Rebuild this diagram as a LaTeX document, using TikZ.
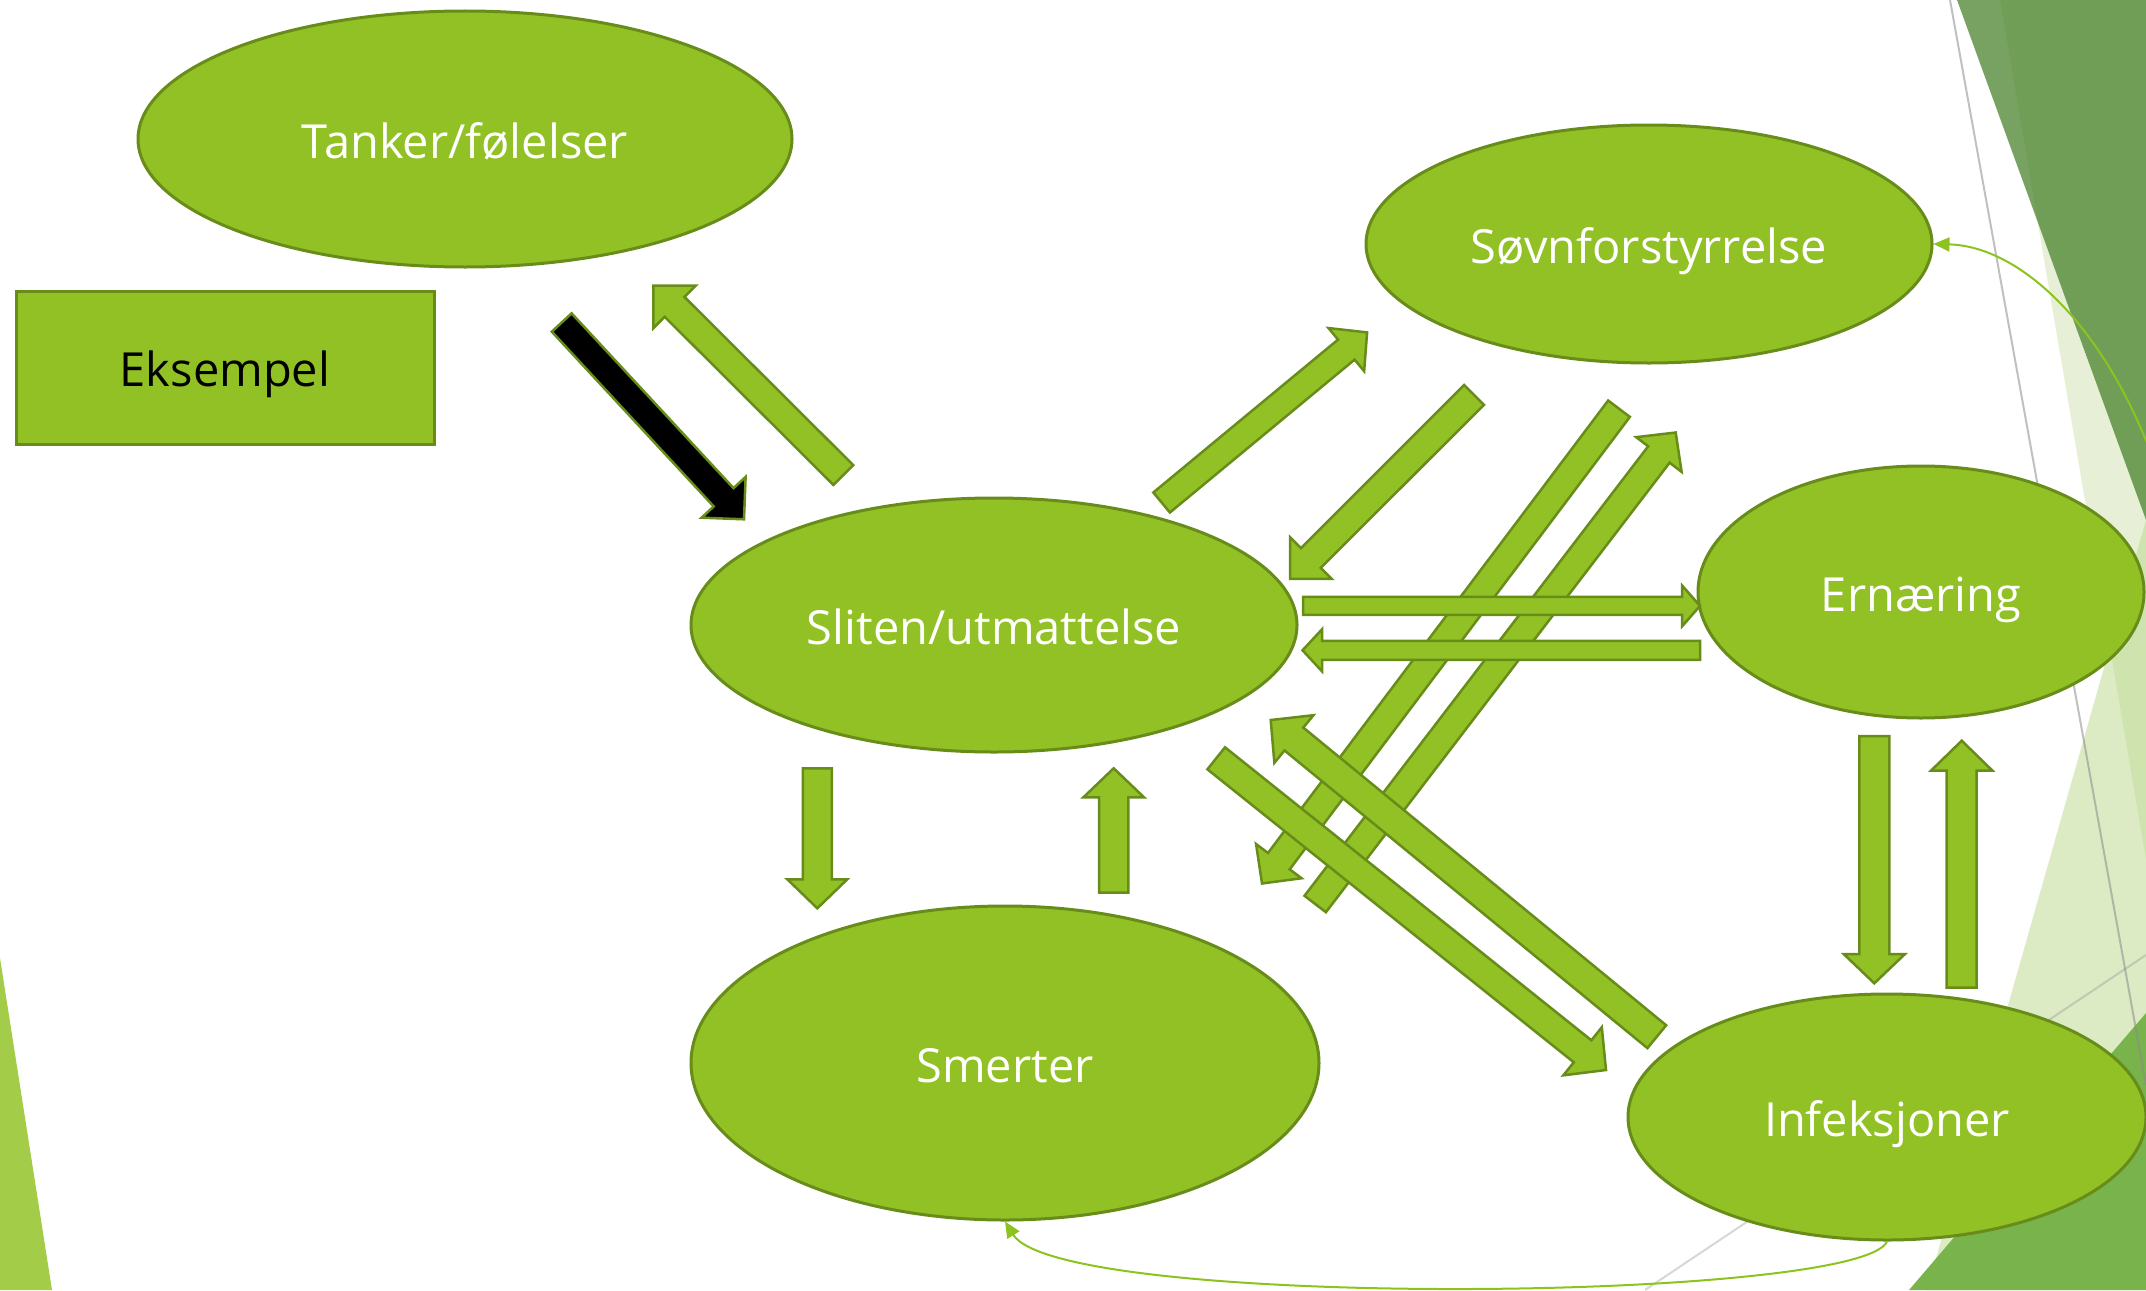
\documentclass[tikz,border=0pt]{standalone}
\usepackage{fontspec}
\setmainfont{Open Sans}
\usetikzlibrary{shapes.geometric,calc,arrows.meta}

\definecolor{leaf}{RGB}{145,193,37}
\definecolor{leafline}{RGB}{104,140,26}
\definecolor{curvegreen}{RGB}{140,195,30}
\definecolor{forest}{RGB}{77,133,48}
\definecolor{mist}{RGB}{231,240,214}
\definecolor{sage}{RGB}{185,215,137}
\definecolor{grass}{RGB}{121,179,75}
\definecolor{lime}{RGB}{163,204,73}
\definecolor{rule}{RGB}{140,140,140}

% block arrow from tail (#2) to tip (#3); #4 half shaft width, #5 half head width, #6 head length
\newcommand{\blockarrow}[6][]{%
  \coordinate (#2-hb) at ($(#3)!#6!(#2)$);
  \draw[barrow,#1] ($(#2)!#4!90:(#3)$) -- ($(#2-hb)!#4!-90:(#2)$) -- ($(#2-hb)!#5!-90:(#2)$)
    -- (#3) -- ($(#2-hb)!#5!90:(#2)$) -- ($(#2-hb)!#4!90:(#2)$) -- ($(#2)!#4!-90:(#3)$) -- cycle;
}

\begin{document}
\begin{tikzpicture}[x=1pt,y=-1pt,
  bubble/.style={ellipse, draw=leafline, fill=leaf, line width=3pt, inner sep=0pt,
    text=white, font=\fontsize{47}{56}\selectfont, text height=38pt, text depth=0pt},
  tagbox/.style={rectangle, draw=leafline, fill=leaf, line width=3pt, inner sep=0pt,
    text=black, font=\fontsize{47}{56}\selectfont, text height=38pt, text depth=0pt},
  barrow/.style={fill=leaf, draw=leafline, line width=2.5pt, line join=miter},
  thinlink/.style={draw=curvegreen, line width=2pt, -{Triangle[length=16pt,width=14pt]}}]

\useasboundingbox (0,0) rectangle (2146,1290);
\clip (0,0) rectangle (2146,1290);

% facet background on the right and lower left
\fill[mist] (2000,0) -- (2146,0) -- (2146,860) -- cycle;
\fill[sage, fill opacity=0.5] (2146,520) -- (2146,1290) -- (1927,1290) -- cycle;
\fill[forest, fill opacity=0.76] (1957,0) -- (2146,0) -- (2146,520) -- cycle;
\fill[grass] (2146,1013) -- (2146,1290) -- (1909,1290) -- cycle;
\fill[lime] (0,958) -- (52,1290) -- (0,1290) -- cycle;
\draw[rule, draw opacity=0.55, line width=2pt] (1950,0) -- (2146,1085);
\draw[rule, draw opacity=0.35, line width=2pt] (1645,1290) -- (2146,955);

% topics
\node[bubble, minimum width=654pt, minimum height=256pt] (tank) at (465,139) {Tanker/følelser};
\node[bubble, minimum width=566pt, minimum height=238pt] (sovn) at (1649,244) {Søvnforstyrrelse};
\node[bubble, minimum width=446pt, minimum height=252pt] (ern) at (1921,592) {Ernæring};
\node[bubble, minimum width=606pt, minimum height=254pt] (slit) at (994,625) {Sliten/utmattelse};
\node[bubble, minimum width=628pt, minimum height=314pt] (smert) at (1005,1063) {Smerter};
\node[bubble, minimum width=518pt, minimum height=246pt] (infek) at (1887,1117) {Infeksjoner};
\node[tagbox, minimum width=418pt, minimum height=153pt] (eks) at (225,367.5) {Eksempel};

% arrow ends
\coordinate (a1s) at (561.7,322.5);   \coordinate (a1e) at (744,519.3);
\coordinate (a2s) at (843.3,475);     \coordinate (a2e) at (653.3,285.7);
\coordinate (a3s) at (1161.6,502.5);  \coordinate (a3e) at (1367.1,332.4);
\coordinate (a4s) at (1474.1,394.9);  \coordinate (a4e) at (1290,578.8);
\coordinate (a5s) at (1619,408.7);    \coordinate (a5e) at (1262,883.5);
\coordinate (a6s) at (1315.2,904);    \coordinate (a6e) at (1675.7,432.5);
\coordinate (a7s) at (1656.8,1036.7); \coordinate (a7e) at (1270.7,720);
\coordinate (a8s) at (1216.2,758.3);  \coordinate (a8e) at (1606,1070);
\coordinate (a9s) at (817.3,768.3);   \coordinate (a9e) at (817.3,908.3);
\coordinate (a10s) at (1113.7,892.7); \coordinate (a10e) at (1113.7,768.3);
\coordinate (a11s) at (1303.2,605.9); \coordinate (a11e) at (1700,605.9);
\coordinate (a12s) at (1700,650.3);   \coordinate (a12e) at (1302.5,650.3);
\coordinate (a13s) at (1874.3,736);   \coordinate (a13e) at (1874.3,983.3);
\coordinate (a14s) at (1961.7,987.7); \coordinate (a14e) at (1961.7,740.7);

% block arrows
\blockarrow[fill=black]{a1s}{a1e}{13.5pt}{30pt}{30pt}
\blockarrow{a2s}{a2e}{14pt}{30pt}{30pt}
\blockarrow{a3s}{a3e}{13pt}{28pt}{27pt}
\blockarrow{a4s}{a4e}{14pt}{29.5pt}{29.5pt}
\blockarrow{a5s}{a5e}{13.6pt}{28.5pt}{28pt}
\blockarrow{a6s}{a6e}{13.5pt}{28.6pt}{27.7pt}
\blockarrow{a7s}{a7e}{14.8pt}{30.8pt}{30pt}
\blockarrow{a8s}{a8e}{14.1pt}{30.8pt}{30pt}
\blockarrow{a9s}{a9e}{14.5pt}{30pt}{29pt}
\blockarrow{a10s}{a10e}{14.7pt}{30.3pt}{29pt}
\blockarrow{a11s}{a11e}{9pt}{20.5pt}{18pt}
\blockarrow{a12s}{a12e}{9.5pt}{21pt}{19.5pt}
\blockarrow{a13s}{a13e}{15pt}{30.7pt}{29.3pt}
\blockarrow{a14s}{a14e}{15pt}{30.8pt}{30pt}

% thin curved links
\draw[thinlink] (infek.east) .. controls (2300,560) and (2090,248) .. (sovn.east);
\draw[thinlink] (infek.south) .. controls (1860,1302) and (1060,1310) .. (smert.south);
\end{tikzpicture}
\end{document}
